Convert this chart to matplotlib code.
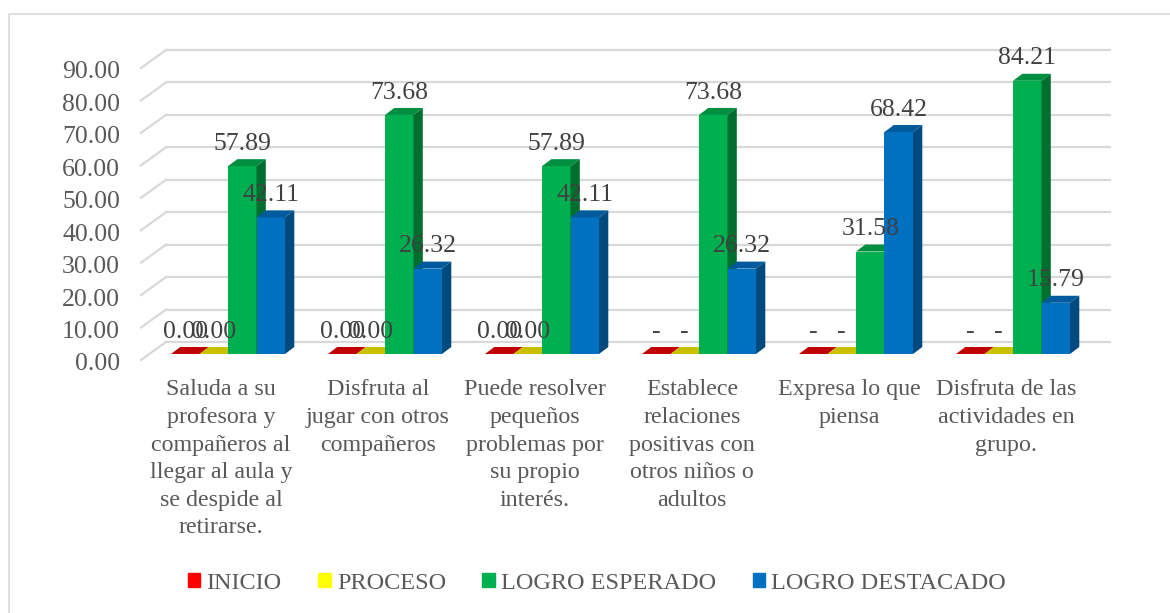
import matplotlib
matplotlib.use('Agg')
import matplotlib.pyplot as plt
from matplotlib.lines import Line2D
from matplotlib.patches import Patch, Polygon
from matplotlib.transforms import ScaledTranslation

plt.rcParams['font.family'] = ['Liberation Serif', 'DejaVu Serif']

categorias = ['Saluda a su\nprofesora y\ncompañeros al\nllegar al aula y\nse despide al\nretirarse.',
              'Disfruta al\njugar con otros\ncompañeros',
              'Puede resolver\npequeños\nproblemas por\nsu propio\ninterés.',
              'Establece\nrelaciones\npositivas con\notros niños o\nadultos',
              'Expresa lo que\npiensa',
              'Disfruta de las\nactividades en\ngrupo.']
inicio = [0, 0, 0, 0, 0, 0]
proceso = [0, 0, 0, 0, 0, 0]
esperado = [57.89, 73.68, 57.89, 73.68, 31.58, 84.21]
destacado = [42.11, 26.32, 42.11, 26.32, 68.42, 15.79]
inicio_txt = ['0.00', '0.00', '0.00', '-', '-', '-']
proceso_txt = ['0.00', '0.00', '0.00', '-', '-', '-']
esperado_txt = ['57.89', '73.68', '57.89', '73.68', '31.58', '84.21']
destacado_txt = ['42.11', '26.32', '42.11', '26.32', '68.42', '15.79']
nombres = ['INICIO', 'PROCESO', 'LOGRO ESPERADO', 'LOGRO DESTACADO']
yticks = [0, 10, 20, 30, 40, 50, 60, 70, 80, 90]

W, H = 1170, 613
px_x = 157.0   # px per category
px_y = 292 / 90  # px per unit

fig = plt.figure(figsize=(W / 100, H / 100), dpi=100)
# the axes is the front plane of the left wall
ax = fig.add_axes([141 / W, (H - 360) / H, (1085 - 141) / W, 292 / H])
ax.set_xlim((141 - 228) / px_x, (1085 - 228) / px_x)
ax.set_ylim(0, 90)
for s in ax.spines.values():
    s.set_visible(False)

# marco exterior, solo arriba e izquierda
fig.add_artist(Line2D([8.5 / W, 8.5 / W, 1], [0, (H - 13.5) / H, (H - 13.5) / H], transform=fig.transFigure,
                      color='#d9d9d9', lw=1.2))

# paredes
wall_dx = 25 / px_x
wall_dy = 18 / px_y
for v in yticks:
    ax.plot([ax.get_xlim()[0], ax.get_xlim()[0] + wall_dx], [v, v + wall_dy], color='#d9d9d9', lw=1.6, clip_on=False, zorder=1)
    ax.plot([ax.get_xlim()[0] + wall_dx, ax.get_xlim()[1] + wall_dx], [v + wall_dy, v + wall_dy], color='#d9d9d9', lw=1.6, clip_on=False, zorder=1)

ancho = 28.5 / px_x
dx = 9.3 / px_x
dy = 7 / px_y
base = 6 / px_y  # bars stand a bit behind the wall front


def barra3d(x, v, front, top, side):
    ax.bar(x, v, ancho, bottom=base, color=front, align='edge', zorder=3, clip_on=False)
    y = base + v
    ax.add_patch(Polygon([(x, y), (x + ancho, y), (x + ancho + dx, y + dy), (x + dx, y + dy)], color=top, lw=0, zorder=3, clip_on=False))
    ax.add_patch(Polygon([(x + ancho, base), (x + ancho + dx, base + dy), (x + ancho + dx, y + dy), (x + ancho, y)], color=side, lw=0, zorder=3, clip_on=False))


series = [(inicio, inicio_txt, '#ff0000', '#c00000', '#a00000'),
          (proceso, proceso_txt, '#ffff00', '#c9c000', '#a09a00'),
          (esperado, esperado_txt, '#00b050', '#008f41', '#006e2e'),
          (destacado, destacado_txt, '#0070c0', '#005a9c', '#004a80')]

for k, (vals, txts, front, top, side) in enumerate(series):
    for i, v in enumerate(vals):
        x = i + (k - 2) * ancho
        if v > 0:
            barra3d(x, v, front, top, side)
        else:
            y = base
            ax.add_patch(Polygon([(x, y), (x + ancho, y), (x + ancho + dx, y + dy), (x + dx, y + dy)], color=top, lw=0, zorder=3, clip_on=False))
        ax.text(x + ancho / 2, base + v + 6.9, txts[i], ha='center', va='center', fontsize=18.5, color='#404040', zorder=5)

ax.set_yticks(yticks)
ax.set_yticklabels(['%.2f' % v for v in yticks], fontsize=18.5, color='#595959')
# labels sit on the wall front plane, a little left of the bars
ax.set_xticks([i - 7 / px_x for i in range(6)])
ax.set_xticklabels(categorias, fontsize=17.3, color='#595959', linespacing=1.41)
ax.tick_params(axis='both', length=0)
ax.tick_params(axis='y', pad=15)
ax.tick_params(axis='x', pad=14)
# after tick_params, which resets the label transforms
for t in ax.get_yticklabels():
    t.set_transform(t.get_transform() + ScaledTranslation(0, -2 / 100, fig.dpi_scale_trans))

handles = [Patch(color=c) for c in ['#ff0000', '#ffff00', '#00b050', '#0070c0']]
fig.legend(handles, nombres, ncol=4, loc='center', bbox_to_anchor=(597 / W, (H - 583.5) / H), frameon=False,
           fontsize=17.5, labelcolor='#595959', handlelength=0.52, handleheight=0.52, handletextpad=0.25, columnspacing=1.5)

fig.savefig('out.png', dpi=100)
